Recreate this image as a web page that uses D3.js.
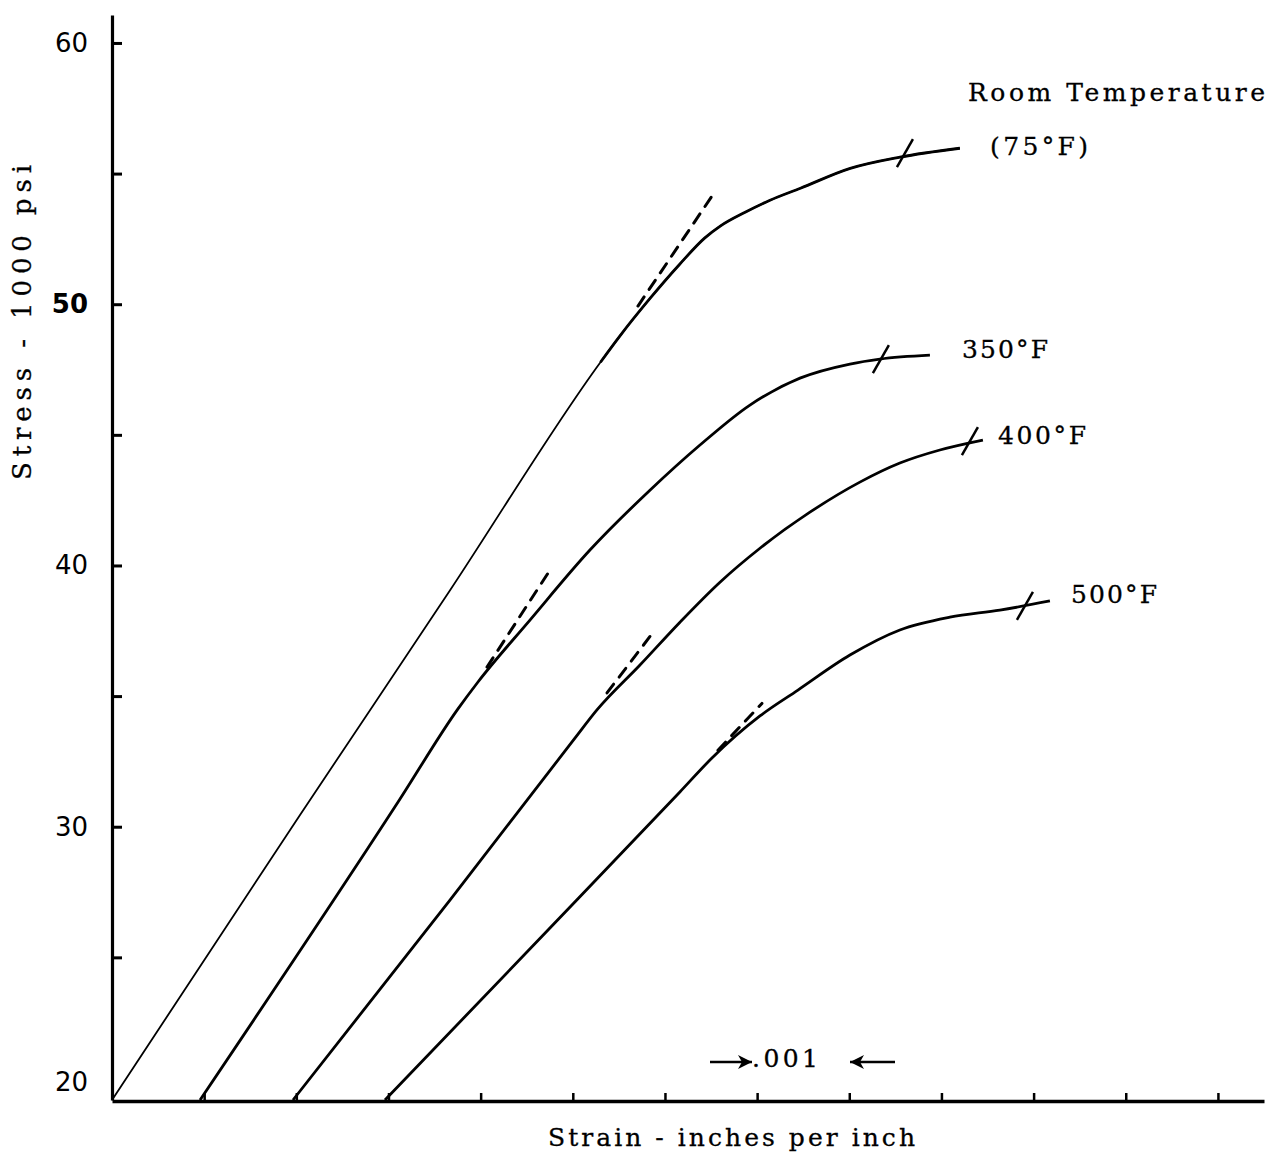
<!DOCTYPE html>
<html>
<head>
<meta charset="utf-8">
<script src="https://cdn.jsdelivr.net/npm/d3@7"></script>
<style>
  body { margin: 0; background: #fff; }
  .lbl { font-family: "DejaVu Serif", serif; font-size: 25px; fill: #000; stroke: #000; stroke-width: 0.3; }
  .num { font-family: "DejaVu Sans", sans-serif; font-size: 26px; fill: #000; }
</style>
</head>
<body>
<svg id="chart" width="1273" height="1158"></svg>
<script>
// strain (in/in) and stress (1000 psi)
const roomStrain = [0, 0.00204, 0.00367, 0.00530, 0.00551, 0.00584, 0.00616, 0.00643, 0.00660, 0.00687, 0.00714, 0.00747, 0.00801, 0.00855, 0.00920];
const roomStress = [19.54, 30.45, 39.06, 47.78, 48.78, 50.23, 51.53, 52.53, 52.99, 53.52, 53.98, 54.44, 55.20, 55.63, 55.97];

const f350Strain = [0.000955, 0.003125, 0.003754, 0.003971, 0.004535, 0.005186, 0.005837, 0.006380, 0.006922, 0.007465, 0.008007, 0.008332, 0.008875];
const f350Stress = [19.54, 31.06, 34.51, 35.54, 37.91, 40.59, 42.88, 44.61, 46.14, 47.17, 47.71, 47.90, 48.05];

const f400Strain = [0.001964, 0.003667, 0.005023, 0.005262, 0.005729, 0.006163, 0.006597, 0.007031, 0.007573, 0.008115, 0.008549, 0.008983, 0.009450];
const f400Stress = [19.54, 27.19, 33.39, 34.47, 36.19, 37.83, 39.36, 40.66, 42.04, 43.19, 43.92, 44.42, 44.80];

const f500Strain = [0.002962, 0.004752, 0.006162, 0.006510, 0.007031, 0.007443, 0.008007, 0.008549, 0.009092, 0.009634, 0.010177];
const f500Stress = [19.54, 26.12, 31.33, 32.63, 34.24, 35.23, 36.57, 37.53, 38.02, 38.29, 38.64];

// dashed tangents [start, end]
const tanStrain = [[0.005707, 0.006510], [0.004069, 0.004774], [0.005371, 0.005891], [0.006575, 0.007052]];
const tanStress = [[49.93, 54.14], [36.11, 39.94], [35.12, 37.53], [32.93, 34.72]];

// slash marks on each curve
const markStrain = [0.008604, 0.008343, 0.009309, 0.009906];
const markStress = [55.78, 47.90, 44.76, 38.45];

const yTickValues = [20, 25, 30, 35, 40, 45, 50, 55, 60];
const yTickLabels = [20, 30, 40, 50, 60];
const xTickValues = [0.001, 0.002, 0.003, 0.004, 0.005, 0.006, 0.007, 0.008, 0.009, 0.010, 0.011, 0.012];

const svg = d3.select('#chart');

const x = d3.scaleLinear().domain([0, 0.0125]).range([112, 1264]);
const y = d3.scaleLinear().domain([19.54, 61.07]).range([1100, 15]);

const zip = (a, b) => a.map((d, i) => [d, b[i]]);
const line = d3.line().x(d => x(d[0])).y(d => y(d[1])).curve(d3.curveMonotoneX);

// axes
const yAxis = d3.axisLeft(y)
  .tickValues(yTickValues)
  .tickSizeInner(-10)
  .tickSizeOuter(0)
  .tickPadding(24)
  .tickFormat(d => yTickLabels.includes(d) ? d : '');

const gy = svg.append('g')
  .attr('transform', 'translate(112,0)')
  .call(yAxis);
gy.select('.domain').attr('stroke-width', 3.2);
gy.selectAll('.tick line').attr('stroke-width', 3)
  .filter(d => d === 20).remove();
gy.selectAll('.tick text').attr('class', 'num').attr('font-size', null).attr('font-family', null)
  .attr('font-weight', d => d === 50 ? 'bold' : null)
  .attr('dy', d => d === 20 ? '0.1em' : '0.32em');

const xAxis = d3.axisBottom(x)
  .tickValues(xTickValues)
  .tickSizeInner(-8)
  .tickSizeOuter(0)
  .tickFormat('');

const gx = svg.append('g')
  .attr('transform', 'translate(0,1101)')
  .call(xAxis);
gx.select('.domain').attr('stroke-width', 3.5);
gx.selectAll('.tick line').attr('stroke-width', 2.5);

// curves
const curves = [
  zip(roomStrain, roomStress),
  zip(f350Strain, f350Stress),
  zip(f400Strain, f400Stress),
  zip(f500Strain, f500Stress)
];

svg.append('g').selectAll('path.curve')
  .data(curves)
  .enter()
  .append('path')
  .attr('class', 'curve')
  .attr('fill', 'none')
  .attr('stroke', '#000')
  .attr('stroke-width', (d, i) => i === 0 ? 1.8 : 2.8)
  .attr('stroke-linejoin', 'round')
  .attr('d', line);

// heavier upper part of the room temperature curve
svg.append('path')
  .attr('fill', 'none')
  .attr('stroke', '#000')
  .attr('stroke-width', 2.8)
  .attr('d', line(zip(roomStrain, roomStress).slice(3)));

// dashed tangents
svg.append('g').selectAll('line.tan')
  .data(tanStrain)
  .enter()
  .append('line')
  .attr('x1', d => x(d[0]))
  .attr('x2', d => x(d[1]))
  .attr('y1', (d, i) => y(tanStress[i][0]))
  .attr('y2', (d, i) => y(tanStress[i][1]))
  .attr('stroke', '#000')
  .attr('stroke-width', 3)
  .attr('stroke-linecap', 'round')
  .attr('stroke-dasharray', '11 9');

// slash marks
svg.append('g').selectAll('line.mark')
  .data(markStrain)
  .enter()
  .append('line')
  .attr('x1', d => x(d) - 8)
  .attr('x2', d => x(d) + 8)
  .attr('y1', (d, i) => y(markStress[i]) + 14)
  .attr('y2', (d, i) => y(markStress[i]) - 14)
  .attr('stroke', '#000')
  .attr('stroke-width', 2.5);

// curve labels
const labels = [
  { t: 'Room Temperature', x: 968, y: 101, w: 297 },
  { t: '(75°F)', x: 990, y: 155, w: 98 },
  { t: '350°F', x: 962, y: 358, w: 86 },
  { t: '400°F', x: 998, y: 444, w: 88 },
  { t: '500°F', x: 1071, y: 603, w: 86 }
];
svg.append('g').selectAll('text')
  .data(labels)
  .enter()
  .append('text')
  .attr('class', 'lbl')
  .attr('x', d => d.x)
  .attr('y', d => d.y)
  .attr('textLength', d => d.w)
  .attr('lengthAdjust', 'spacing')
  .text(d => d.t);

// .001 scale note
svg.append('text').attr('class', 'lbl')
  .attr('x', 752).attr('y', 1067)
  .attr('textLength', 66).attr('lengthAdjust', 'spacing')
  .text('.001');

const arrow = (x1, x2) => {
  svg.append('line')
    .attr('x1', x1).attr('x2', x2).attr('y1', 1062).attr('y2', 1062)
    .attr('stroke', '#000').attr('stroke-width', 2.5);
  const dir = x2 > x1 ? 1 : -1;
  svg.append('path')
    .attr('d', `M${x2},1062 L${x2 - dir * 14},1055 L${x2 - dir * 10},1062 L${x2 - dir * 14},1069 Z`)
    .attr('fill', '#000');
};
arrow(710, 752);
arrow(895, 850);

// axis titles
svg.append('text').attr('class', 'lbl')
  .attr('x', 548).attr('y', 1146)
  .attr('textLength', 367).attr('lengthAdjust', 'spacing')
  .text('Strain - inches per inch');

svg.append('text').attr('class', 'lbl')
  .style('font-size', '26px')
  .attr('transform', 'translate(31,480) rotate(-90)')
  .attr('textLength', 315).attr('lengthAdjust', 'spacing')
  .text('Stress - 1000 psi');
</script>
</body>
</html>
